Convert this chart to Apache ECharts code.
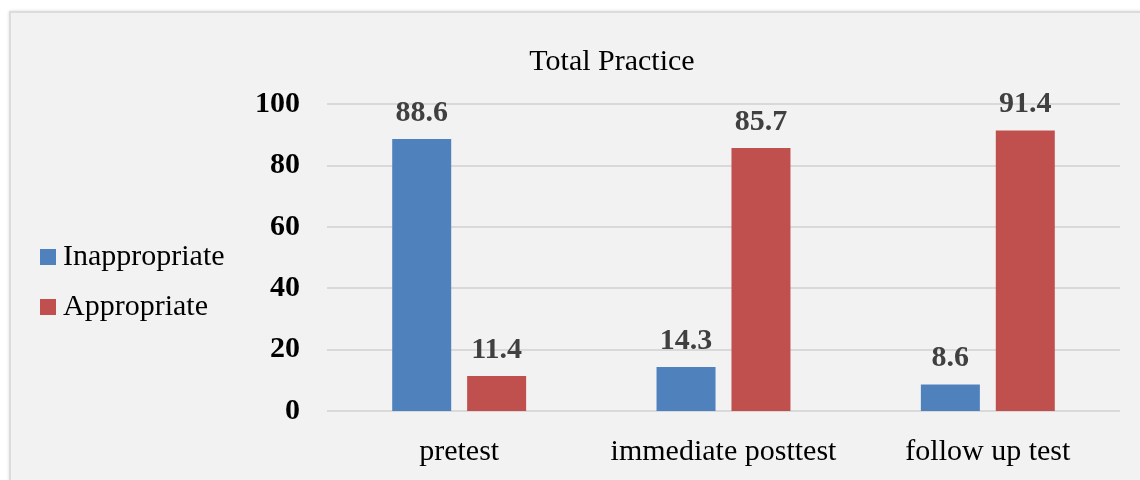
<!DOCTYPE html>
<html>
<head>
<meta charset="utf-8">
<script src="https://cdn.jsdelivr.net/npm/echarts@6/dist/echarts.min.js"></script>
<style>
html,body{margin:0;padding:0;background:#fff;overflow:hidden;}
#bg{position:absolute;left:9px;top:11px;width:1200px;height:520px;background:#f2f2f2;border:2px solid #dcdcdc;box-shadow:0 0 3px rgba(0,0,0,0.15);}
#chart{position:absolute;left:0;top:0;width:1140px;height:480px;}
</style>
</head>
<body>
<div id="bg"></div>
<div id="chart"></div>
<script>
const categories = ["pretest", "immediate posttest", "follow up test"];
const inappropriate = [88.6, 14.3, 8.6];
const appropriate = [11.4, 85.7, 91.4];
const seriesNames = ["Inappropriate", "Appropriate"];

const font = "'Liberation Serif', 'Times New Roman', serif";
const chart = echarts.init(document.getElementById('chart'));
const labelStyle = {
  show: true, position: 'top', distance: 11,
  fontFamily: font, fontSize: 30, fontWeight: 'bold', color: '#404040'
};
chart.setOption({
  backgroundColor: 'transparent',
  animation: false,
  title: {
    text: 'Total Practice', left: 607, top: 42, textAlign: 'center',
    textStyle: {fontFamily: font, fontSize: 30, fontWeight: 'normal', color: '#000'}
  },
  legend: {
    orient: 'vertical', left: 35, top: 237, itemGap: 20,
    itemWidth: 16, itemHeight: 16, icon: 'rect',
    textStyle: {fontFamily: font, fontSize: 30, color: '#000', padding: [0,0,0,2]},
    data: seriesNames
  },
  grid: {left: 327, right: 20, top: 104, bottom: 69, containLabel: false},
  xAxis: {
    type: 'category', data: categories,
    axisLine: {show: false}, axisTick: {show: false},
    axisLabel: {fontFamily: font, fontSize: 30, color: '#000', margin: 26, interval: 0}
  },
  yAxis: {
    type: 'value', min: 0, max: 100, interval: 20,
    axisLine: {show: false}, axisTick: {show: false},
    splitLine: {lineStyle: {color: '#d9d9d9', width: 2}},
    axisLabel: {fontFamily: font, fontSize: 30, fontWeight: 'bold', color: '#000', margin: 27, padding: [9,0,0,0]}
  },
  series: [
    {name: seriesNames[0], type: 'bar', data: inappropriate, barWidth: 59, barGap: '27%',
     itemStyle: {color: '#4f81bd'}, label: labelStyle},
    {name: seriesNames[1], type: 'bar', data: appropriate, barWidth: 59,
     itemStyle: {color: '#c0504d'}, label: labelStyle}
  ]
});
</script>
</body>
</html>
